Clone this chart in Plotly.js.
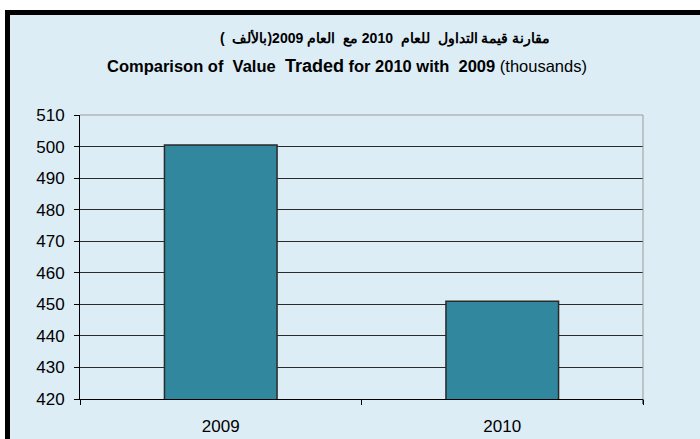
<!DOCTYPE html>
<html>
<head>
<meta charset="utf-8">
<script src="https://cdn.plot.ly/plotly-3.0.1.min.js"></script>
<style>
  html, body { margin: 0; padding: 0; background: #ffffff; width: 700px; height: 439px; overflow: hidden; }
  #frame { position: absolute; left: 5px; top: 10px; width: 690px; height: 424px;
           border-top: 5px solid #000; border-left: 5px solid #000; background: #ddedf6; }
  #chart { width: 690px; height: 424px; }
</style>
</head>
<body>
<div id="frame"><div id="chart"></div></div>
<script>
const categories = ["2009", "2010"];
const values = [500.5, 451.0];
const yTicks = [420, 430, 440, 450, 460, 470, 480, 490, 500, 510];
const titleArabic = "\u202Bمقارنة قيمة التداول  للعام  2010 مع  العام 2009(بالألف  )\u202C";
const titleEnglish = "<b>Comparison of  Value  </b><b><span style='font-size:18px'>Traded</span></b><b> for 2010 with  2009</b> (thousands)";

const font = "Liberation Sans, Arial, sans-serif";

const trace = {
  type: "bar",
  x: categories,
  y: values,
  marker: { color: "#31889e", line: { color: "#2a2a2a", width: 1.5 } },
  width: 0.4,
  hoverinfo: "x+y"
};

const plotH = 424 - 100 - 40;
const plotW = 690 - 70 - 57;
function px2x(px) { return (px - 10 - 70) / plotW; }
function py2y(py) { return 1 + (100 - (py - 15)) / plotH; }

const layout = {
  width: 690, height: 424,
  margin: { l: 70, r: 57, t: 100, b: 40 },
  paper_bgcolor: "rgba(0,0,0,0)",
  plot_bgcolor: "rgba(0,0,0,0)",
  showlegend: false,
  font: { family: font, size: 17, color: "#000" },
  xaxis: {
    type: "category",
    tickson: "boundaries",
    ticks: "outside", ticklen: 5, tickcolor: "#000",
    showline: true, linecolor: "#000", linewidth: 1,
    showgrid: false,
    ticklabelstandoff: 12,
    tickfont: { family: font, size: 17, color: "#000" }
  },
  yaxis: {
    range: [420, 510],
    tickvals: yTicks,
    ticktext: yTicks.map(String),
    ticks: "outside", ticklen: 5, tickcolor: "#000",
    showline: true, linecolor: "#000", linewidth: 1,
    showgrid: true, gridcolor: "#2b2b2b", gridwidth: 1,
    zeroline: false,
    ticklabelstandoff: 6,
    tickfont: { family: font, size: 17, color: "#000" }
  },
  shapes: [
    { type: "line", xref: "paper", yref: "paper", x0: 1, x1: 1, y0: 0, y1: 1,
      line: { color: "#9a9a9a", width: 1 } },
    { type: "line", xref: "paper", yref: "paper", x0: 0, x1: 1, y0: 1, y1: 1,
      line: { color: "#9a9a9a", width: 1 } },
    { type: "line", xref: "paper", yref: "paper", x0: 1, x1: 1, y0: 0, y1: -0.018,
      line: { color: "#000", width: 1 } }
  ],
  annotations: [
    { xref: "paper", yref: "paper", x: px2x(385), y: py2y(38), xanchor: "center", yanchor: "middle",
      showarrow: false, text: "<b>" + titleArabic + "</b>", font: { family: font, size: 14, color: "#000" } },
    { xref: "paper", yref: "paper", x: px2x(347), y: py2y(66), xanchor: "center", yanchor: "middle",
      showarrow: false, text: titleEnglish, font: { family: font, size: 16.5, color: "#000" } }
  ]
};

Plotly.newPlot("chart", [trace], layout, { displayModeBar: false, staticPlot: true });
</script>
</body>
</html>
